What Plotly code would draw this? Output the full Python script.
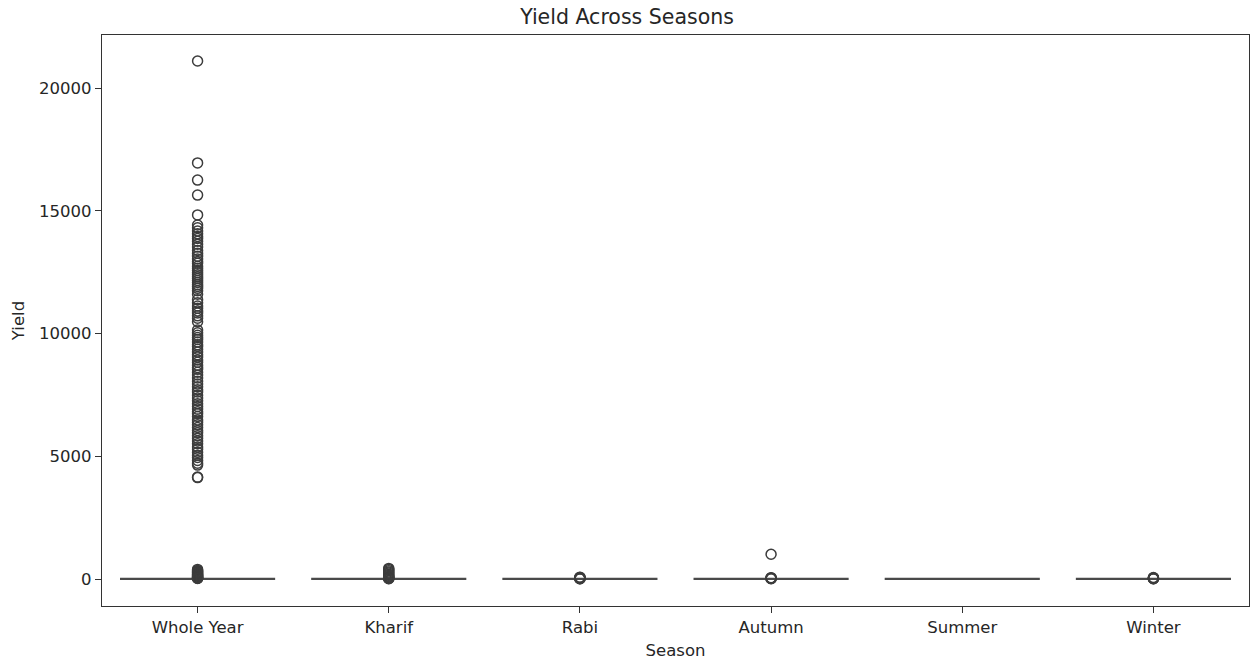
import plotly.graph_objects as go

seasons = ["Whole Year", "Kharif", "Rabi", "Autumn", "Summer", "Winter"]

# box statistics (yields are tiny next to the outliers)
q1 = [0.4, 0.5, 0.6, 0.5, 0.6, 0.5]
median = [1.2, 1.0, 1.3, 1.1, 1.2, 1.0]
q3 = [4.5, 2.2, 2.8, 2.5, 2.6, 2.4]
lower = [0.0, 0.0, 0.0, 0.0, 0.0, 0.0]
upper = [10.0, 4.5, 5.0, 4.8, 5.0, 4.6]

# outliers
out_whole_year = [21100, 16950, 16250, 15640, 14830, 14420, 14310, 14180, 14060, 13950,
                  13870, 13760, 13640, 13520, 13380, 13270, 13150, 13040, 12930, 12860,
                  12740, 12660, 12570, 12480, 12390, 12310, 12240, 12160, 12080, 11990,
                  11920, 11840, 11740, 11600, 11380, 11250, 11120, 11030, 10920, 10840,
                  10720, 10620, 10480, 10140, 10030, 9930, 9840, 9760, 9650, 9540,
                  9470, 9360, 9250, 9130, 9040, 8920, 8830, 8710, 8620, 8540,
                  8420, 8310, 8190, 8060, 7940, 7830, 7710, 7620, 7480, 7370,
                  7260, 7140, 7030, 6920, 6810, 6730, 6620, 6480, 6390, 6280,
                  6170, 6050, 5960, 5840, 5730, 5620, 5510, 5380, 5290, 5160,
                  5040, 4950, 4830, 4720, 4640, 4150, 4130,
                  390, 350, 320, 290, 260, 230, 205, 180, 160, 140, 120, 100, 85, 70, 55, 40, 30, 22]
out_kharif = [430, 390, 340, 290, 240, 190, 150, 110, 80, 55, 35, 20, 12]
out_rabi = [75, 60, 45, 35, 25, 15, 10]
out_autumn = [1010, 55, 40, 28, 18, 10]
out_summer = []
out_winter = [60, 45, 35, 25, 15, 10]
outliers = [out_whole_year, out_kharif, out_rabi, out_autumn, out_summer, out_winter]

y_ticks = [0, 5000, 10000, 15000, 20000]
y_tick_labels = ["0", "5000", "10000", "15000", "20000"]

line_col = "#4a4a4a"
fig = go.Figure()
fig.add_trace(go.Box(
    x=seasons, q1=q1, median=median, q3=q3, lowerfence=lower, upperfence=upper,
    width=0.8, whiskerwidth=0.5, boxpoints=False,
    fillcolor="#4a4a4a", line=dict(color=line_col, width=2.2),
    showlegend=False, hoverinfo="skip"))

for s, vals in zip(seasons, outliers):
    if not vals:
        continue
    fig.add_trace(go.Scatter(
        x=[s] * len(vals), y=vals, mode="markers", showlegend=False,
        marker=dict(symbol="circle-open", size=10, color="#3c3c3c",
                    line=dict(width=1.5, color="#3c3c3c"))))

font = "DejaVu Sans, sans-serif"
fig.update_layout(
    width=1254, height=662,
    margin=dict(l=102, r=5, t=35, b=56),
    paper_bgcolor="white", plot_bgcolor="white",
    font=dict(family=font, size=17, color="#262626"),
    title=dict(text="Yield Across Seasons", x=0.5, xanchor="center", y=0.974, yanchor="middle",
               font=dict(family=font, size=20.5, color="#262626")),
)
fig.update_xaxes(
    type="category", categoryorder="array", categoryarray=seasons,
    range=[-0.5, 5.5], showgrid=False, zeroline=False,
    showline=True, linecolor="#333333", linewidth=1.2, mirror=True,
    ticks="outside", ticklen=6, tickcolor="#333333",
    tickfont=dict(size=16.5),
    title=dict(text="Season", font=dict(size=16.5), standoff=8))
fig.update_yaxes(
    range=[-1100, 22160], tickvals=y_ticks, ticktext=y_tick_labels,
    showgrid=False, zeroline=False,
    showline=True, linecolor="#333333", linewidth=1.2, mirror=True,
    ticks="outside", ticklen=6, tickcolor="#333333",
    tickfont=dict(size=16.5),
    title=dict(text="Yield", font=dict(size=16.5), standoff=10))

fig.write_html("out.html")
